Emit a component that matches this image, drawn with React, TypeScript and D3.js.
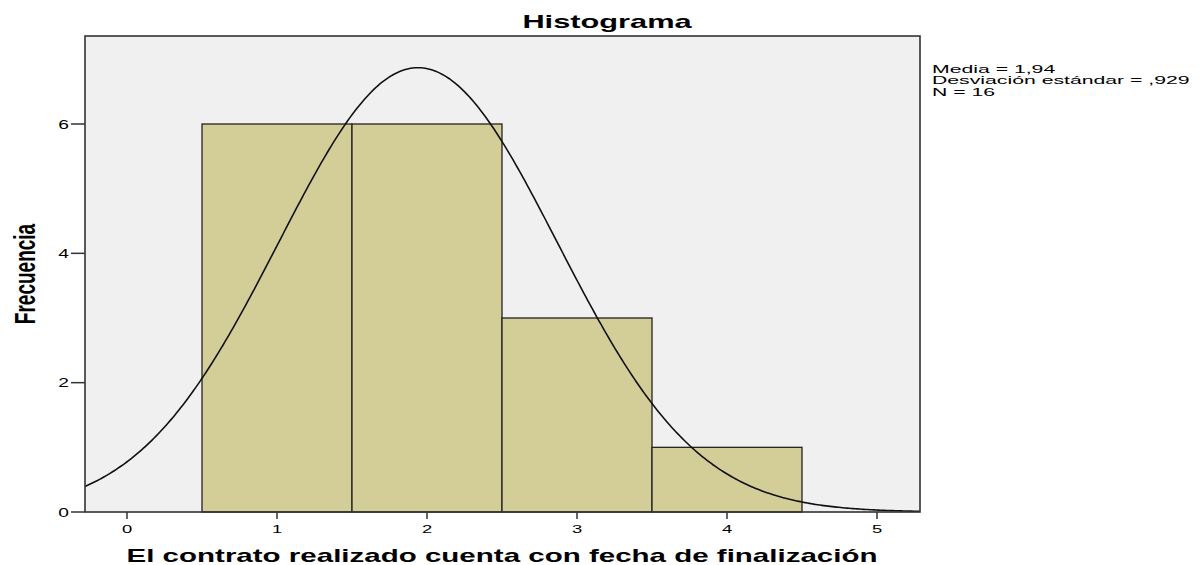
import React from "react";
import * as d3 from "d3";

const binStarts = [0.5, 1.5, 2.5, 3.5];
const binWidth = 1;
const counts = [6, 6, 3, 1];
const xTicks = [0, 1, 2, 3, 4, 5];
const yTicks = [0, 2, 4, 6];
const mean = 1.94;
const sd = 0.929;
const n = 16;
const statsLines = ["Media = 1,94", "Desviación estándar = ,929", "N = 16"];

const font = "Arial, 'Liberation Sans', sans-serif";
const SX = 1.6;

function ST(props: { x: number; y: number; size: number; anchor?: string; bold?: boolean; sx?: number; children: React.ReactNode }) {
  const s = props.sx ?? SX;
  return (
    <text transform={`translate(${props.x},${props.y}) scale(${s},1)`} textAnchor={props.anchor || "start"}
      fontFamily={font} fontWeight={props.bold ? "bold" : "normal"} fontSize={props.size} fill="#000">{props.children}</text>
  );
}

export default function App() {
  const W = 1202, H = 565;
  const left = 85, right = 920, top = 36, bottom = 512;
  const x = d3.scaleLinear().domain([0, 1]).range([127, 277]);
  const xMin = x.invert(left), xMax = x.invert(right);
  const y = d3.scaleLinear().domain([0, 6]).range([bottom, 124]);
  const pts = d3.range(0, 401).map(i => xMin + (xMax - xMin) * i / 400);
  const dens = (v: number) => n * binWidth / (sd * Math.sqrt(2 * Math.PI)) * Math.exp(-0.5 * ((v - mean) / sd) ** 2);
  const line = d3.line<number>().x(d => x(d)).y(d => y(dens(d)));
  return (
    <svg width={W} height={H} style={{ position: "absolute", left: 0, top: 0 }}>
      <rect width={W} height={H} fill="#fff" />
      <ST x={607} y={28} size={19} anchor="middle" bold sx={1.62}>Histograma</ST>
      <defs>
        <clipPath id="plotclip"><rect x={left} y={top} width={right - left} height={bottom - top} /></clipPath>
      </defs>
      <rect x={left} y={top} width={right - left} height={bottom - top} fill="#F0F0F0" stroke="none" />
      {counts.map((c, i) => (
        <rect key={i} x={x(binStarts[i])} y={y(c)} width={x(binStarts[i] + binWidth) - x(binStarts[i])} height={bottom - y(c)}
          fill="#D3CE98" stroke="#222" strokeWidth={1.3} />
      ))}
      <path d={line(pts) || ""} fill="none" stroke="#111" strokeWidth={1.6} clipPath="url(#plotclip)" />
      <rect x={left} y={top} width={right - left} height={bottom - top} fill="none" stroke="#333" strokeWidth={1.6} />
      {yTicks.map(t => (
        <g key={t}>
          <line x1={71} x2={left} y1={y(t)} y2={y(t)} stroke="#333" strokeWidth={1.5} />
          <ST x={69} y={y(t) + 4.5} size={12} anchor="end">{t}</ST>
        </g>
      ))}
      {xTicks.map(t => (
        <g key={t}>
          <line x1={x(t)} x2={x(t)} y1={bottom} y2={bottom + 7} stroke="#333" strokeWidth={1.5} />
          <ST x={x(t)} y={bottom + 21} size={11.5} anchor="middle">{t}</ST>
        </g>
      ))}
      <ST x={502} y={562} size={18} anchor="middle" bold sx={1.64}>El contrato realizado cuenta con fecha de finalización</ST>
      <text transform="translate(35,274) scale(1.55,1) rotate(-90)" textAnchor="middle" fontFamily={font} fontWeight="bold" fontSize={19}>Frecuencia</text>
      {statsLines.map((s, i) => (
        <ST key={i} x={932} y={72.5 + i * 11.7} size={11} sx={1.93}>{s}</ST>
      ))}
    </svg>
  );
}
